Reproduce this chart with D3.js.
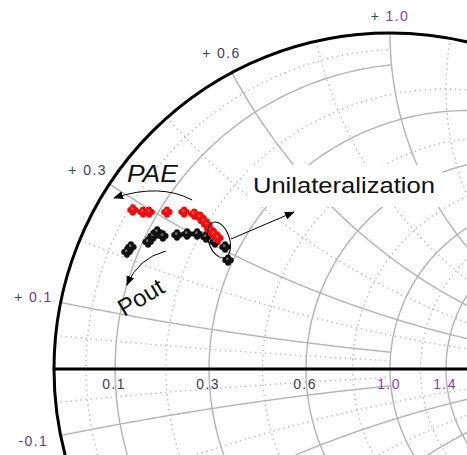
<!DOCTYPE html>
<html>
<head>
<meta charset="utf-8">
<script src="https://cdn.jsdelivr.net/npm/d3@7"></script>
<style>
  html, body { margin: 0; padding: 0; background: #ffffff; }
  svg { display: block; }
</style>
</head>
<body>
<script>
// Load-pull sweep, reflection coefficient (real, imag) at each step
const paePoints = [
  [-0.765, 0.473], [-0.735, 0.467], [-0.717, 0.467], [-0.664, 0.467],
  [-0.613, 0.467], [-0.583, 0.461], [-0.565, 0.452], [-0.554, 0.440],
  [-0.545, 0.429], [-0.536, 0.414], [-0.524, 0.402], [-0.512, 0.390]
];
const poutPoints = [
  [-0.783, 0.348], [-0.771, 0.363], [-0.720, 0.378], [-0.705, 0.396],
  [-0.693, 0.408], [-0.676, 0.396], [-0.634, 0.399], [-0.604, 0.402],
  [-0.574, 0.402], [-0.548, 0.393], [-0.521, 0.378], [-0.491, 0.363],
  [-0.482, 0.324]
];

// Smith grid levels: solid circles/arcs and the dotted ones between them
const majorResistance = [0.1, 0.3, 0.6, 1.0, 1.4, 2, 3, 5, 10];
const majorReactance  = [0.1, 0.3, 0.6, 1.0, 1.4, 2, 3, 5, 10];
const minorResistance = [0.05, 0.2, 0.45, 0.8, 1.2, 1.7, 2.5, 4, 7.5];
const minorReactance  = [0.05, 0.2, 0.45, 0.8, 1.2, 1.7, 2.5, 4, 7.5];

// Tick labels
const resistanceTicks = ["0.1", "0.3", "0.6", "1.0", "1.4"];
const reactanceTicks  = ["+ 1.0", "+ 0.6", "+ 0.3", "+ 0.1", "-0.1"];

const W = 467, H = 455;
const cx = 390, cy = 369, R = 336;

const gx = d3.scaleLinear().domain([-1, 1]).range([cx - R, cx + R]);
const gy = d3.scaleLinear().domain([-1, 1]).range([cy + R, cy - R]);

const svg = d3.select("body").append("svg")
  .attr("width", W).attr("height", H)
  .attr("viewBox", `0 0 ${W} ${H}`);

svg.append("rect").attr("width", W).attr("height", H).attr("fill", "#ffffff");

// normalized impedance -> reflection coefficient
function gammaOf(r, x) {
  const d = (r + 1) * (r + 1) + x * x;
  return [(r * r - 1 + x * x) / d, (2 * x) / d];
}
const toPx = d3.line().x(d => gx(d[0])).y(d => gy(d[1]));

// constant-resistance circle, limited to |x| <= xLim
function resistanceCurve(r, xLim) {
  const a = Math.atan(xLim), pts = [];
  const n = 300;
  for (let i = 0; i <= n; i++) {
    const t = -a + 2 * a * i / n;
    pts.push(gammaOf(r, Math.tan(t)));
  }
  return pts;
}
// constant-reactance arc, from r = 0 up to rLim
function reactanceCurve(x, rLim) {
  const a = Math.atan(rLim), pts = [];
  const n = 300;
  for (let i = 0; i <= n; i++) {
    const u = a * i / n;
    pts.push(gammaOf(Math.tan(u), x));
  }
  return pts;
}

// how far each line runs before it stops
function majorLimit(v) { return v <= 0.1 ? 1.0 : (v <= 0.3 ? 3 : 1e6); }
function minorLimit(v) { return v <= 0.05 ? 1.0 : (v <= 0.2 ? 3 : (v <= 0.45 ? 5 : 1e6)); }

const grid = svg.append("g").attr("fill", "none");

// dotted lines
minorResistance.forEach(r => {
  grid.append("path").attr("d", toPx(resistanceCurve(r, minorLimit(r))))
    .attr("stroke", "#b9b9b9").attr("stroke-width", 1.4)
    .attr("stroke-dasharray", "1.4,3.6");
});
minorReactance.forEach(x => {
  [x, -x].forEach(v => {
    grid.append("path").attr("d", toPx(reactanceCurve(v, minorLimit(x))))
      .attr("stroke", "#b9b9b9").attr("stroke-width", 1.4)
      .attr("stroke-dasharray", "1.4,3.6");
  });
});

// solid lines
majorResistance.forEach(r => {
  grid.append("path").attr("d", toPx(resistanceCurve(r, majorLimit(r))))
    .attr("stroke", "#b3b3b3").attr("stroke-width", 1.4);
});
majorReactance.forEach(x => {
  [x, -x].forEach(v => {
    grid.append("path").attr("d", toPx(reactanceCurve(v, majorLimit(x))))
      .attr("stroke", "#b3b3b3").attr("stroke-width", 1.4);
  });
});

// outer circle and real axis
svg.append("circle")
  .attr("cx", gx(0)).attr("cy", gy(0)).attr("r", gx(1) - gx(0))
  .attr("fill", "none").attr("stroke", "#000").attr("stroke-width", 3);
svg.append("line")
  .attr("x1", gx(-1)).attr("x2", gx(1))
  .attr("y1", gy(0)).attr("y2", gy(0))
  .attr("stroke", "#000").attr("stroke-width", 3);

// tick labels
const labelFont = "'Liberation Sans', Arial, sans-serif";
const resVals = resistanceTicks.map(Number);
resistanceTicks.forEach((t, i) => {
  const g = gammaOf(resVals[i], 0);
  const purple = resVals[i] >= 1;
  svg.append("text")
    .attr("x", gx(g[0]) - 1).attr("y", gy(0) + 20)
    .attr("text-anchor", "middle")
    .attr("font-family", labelFont).attr("font-size", 14)
    .attr("letter-spacing", 1.4)
    .attr("fill", purple ? "#8a3f98" : "#3d3d58")
    .text(t);
});

reactanceTicks.forEach(t => {
  const v = parseFloat(t.replace(/\s/g, ""));
  const g = gammaOf(0, v);
  const px = gx(g[0]), py = gy(g[1]);
  const len = Math.hypot(px - gx(0), py - gy(0));
  const ux = (px - gx(0)) / len, uy = (py - gy(0)) / len;
  const dist = 17 + 11 * Math.abs(ux);
  const tx = px + ux * dist, ty = py + uy * dist;
  const txt = svg.append("text")
    .attr("x", tx).attr("y", ty + 5)
    .attr("text-anchor", "middle")
    .attr("font-family", labelFont).attr("font-size", 14)
    .attr("letter-spacing", 1.4);
  const sign = t.startsWith("+") ? "+ " : "-";
  const num = t.replace(/^[+-]\s?/, "");
  txt.append("tspan").attr("fill", "#24505a").text(sign);
  txt.append("tspan").attr("fill", Math.abs(v) >= 1 ? "#8a3f98" : (Math.abs(v) < 0.2 ? "#6a3f7a" : "#3d3d58")).text(num);
});

// sweep markers: small clustered blobs
function blob(g, color, shade) {
  const offs = [[0, 0], [-2.7, 0], [2.7, 0], [0, -2.7], [0, 2.7]];
  offs.forEach(o => g.append("circle").attr("cx", o[0]).attr("cy", o[1]).attr("r", 3.0).attr("fill", color));
  g.append("circle").attr("cx", -0.8).attr("cy", -1.3).attr("r", 1.4).attr("fill", shade);
}
const poutG = svg.append("g");
poutPoints.forEach(p => {
  const g = poutG.append("g").attr("transform", `translate(${gx(p[0])},${gy(p[1])})`);
  blob(g, "#111111", "#6a6a6a");
});
const paeG = svg.append("g");
paePoints.forEach(p => {
  const g = paeG.append("g").attr("transform", `translate(${gx(p[0])},${gy(p[1])})`);
  blob(g, "#f20d0d", "#e85050");
});

// annotations
const defs = svg.append("defs");
defs.append("marker").attr("id", "head")
  .attr("viewBox", "0 0 10 10").attr("refX", 9).attr("refY", 5)
  .attr("markerWidth", 10).attr("markerHeight", 10)
  .attr("markerUnits", "userSpaceOnUse").attr("orient", "auto")
  .append("path").attr("d", "M0,1 L10,5 L0,9 Z").attr("fill", "#000");

const textFont = "'Liberation Sans', Arial, sans-serif";
function P(g) { return [gx(g[0]), gy(g[1])]; }

// PAE sweep direction
const paeArc = [[-0.589, 0.503], [-0.685, 0.554], [-0.821, 0.509]].map(P);
svg.append("path")
  .attr("d", `M${paeArc[0]} Q${paeArc[1]} ${paeArc[2]}`)
  .attr("fill", "none").attr("stroke", "#000").attr("stroke-width", 1)
  .attr("marker-end", "url(#head)");
const paeAt = P([-0.783, 0.557]);
svg.append("text").attr("x", paeAt[0]).attr("y", paeAt[1])
  .attr("font-family", textFont).attr("font-size", 24).attr("font-style", "italic")
  .attr("textLength", 51).attr("lengthAdjust", "spacingAndGlyphs")
  .attr("fill", "#111").text("PAE");

// Pout sweep direction
const poutArc = [[-0.667, 0.351], [-0.750, 0.330], [-0.783, 0.250]].map(P);
svg.append("path")
  .attr("d", `M${poutArc[0]} Q${poutArc[1]} ${poutArc[2]}`)
  .attr("fill", "none").attr("stroke", "#000").attr("stroke-width", 1)
  .attr("marker-end", "url(#head)");
const poutAt = P([-0.792, 0.155]);
svg.append("text")
  .attr("transform", `translate(${poutAt[0]},${poutAt[1]}) rotate(-31)`)
  .attr("font-family", textFont).attr("font-size", 24)
  .attr("fill", "#111").text("Pout");

// unilateralization region and pointer
const uniAt = P([-0.408, 0.524]);
svg.append("rect")
  .attr("x", uniAt[0] - 5).attr("y", uniAt[1] - 28)
  .attr("width", 195).attr("height", 42).attr("fill", "#fff");
svg.append("text").attr("x", uniAt[0]).attr("y", uniAt[1])
  .attr("font-family", textFont).attr("font-size", 22)
  .attr("textLength", 182).attr("lengthAdjust", "spacingAndGlyphs")
  .attr("fill", "#111").text("Unilateralization");

const ell = P([-0.509, 0.384]);
svg.append("ellipse")
  .attr("transform", `translate(${ell[0]},${ell[1]}) rotate(-18)`)
  .attr("rx", 10.5).attr("ry", 18.5)
  .attr("fill", "none").attr("stroke", "#000").attr("stroke-width", 1);
const a0 = P([-0.473, 0.387]), a1 = P([-0.286, 0.467]);
svg.append("line")
  .attr("x1", a0[0]).attr("y1", a0[1]).attr("x2", a1[0]).attr("y2", a1[1])
  .attr("stroke", "#000").attr("stroke-width", 1)
  .attr("marker-end", "url(#head)");
</script>
</body>
</html>
